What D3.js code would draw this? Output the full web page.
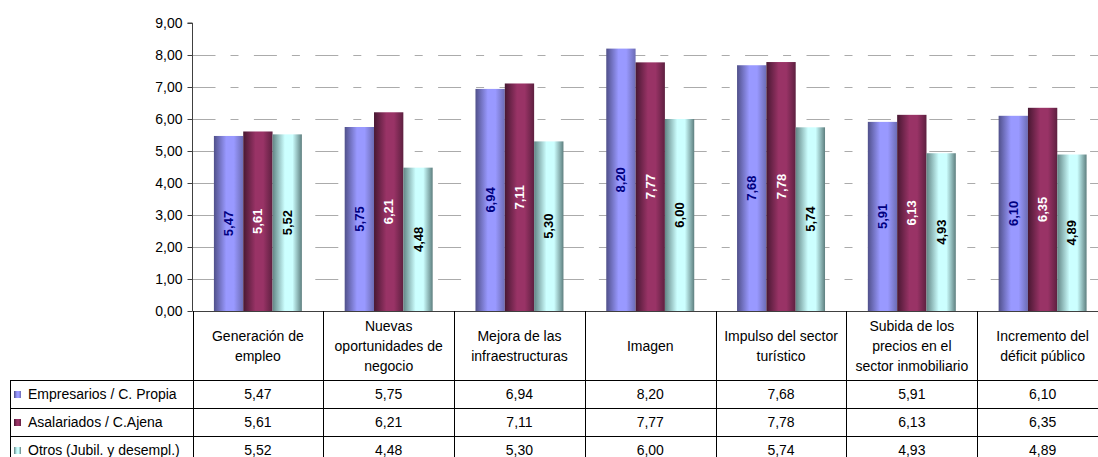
<!DOCTYPE html>
<html>
<head>
<meta charset="utf-8">
<script src="https://cdn.jsdelivr.net/npm/d3@7"></script>
<style>
  html, body { margin: 0; padding: 0; background: #fff; }
  svg { display: block; font-family: Arial, "Liberation Sans", sans-serif; }
</style>
</head>
<body>
<svg id="chart" width="1098" height="457"></svg>
<script>
// ---- data ----
const categories = [
  "Generación de empleo",
  "Nuevas oportunidades de negocio",
  "Mejora de las infraestructuras",
  "Imagen",
  "Impulso del sector turístico",
  "Subida de los precios en el sector inmobiliario",
  "Incremento del déficit público"
];
const categoryLines = [
  ["Generación de", "empleo"],
  ["Nuevas", "oportunidades de", "negocio"],
  ["Mejora de las", "infraestructuras"],
  ["Imagen"],
  ["Impulso del sector", "turístico"],
  ["Subida de los", "precios en el", "sector inmobiliario"],
  ["Incremento del", "déficit público"]
];
const seriesNames = ["Empresarios / C. Propia", "Asalariados / C.Ajena", "Otros (Jubil. y desempl.)"];
const empresarios = [5.47, 5.75, 6.94, 8.20, 7.68, 5.91, 6.10];
const asalariados = [5.61, 6.21, 7.11, 7.77, 7.78, 6.13, 6.35];
const otros = [5.52, 4.48, 5.30, 6.00, 5.74, 4.93, 4.89];
const yTicks = [0, 1, 2, 3, 4, 5, 6, 7, 8, 9];

const seriesValues = [empresarios, asalariados, otros];
const seriesStyle = [
  { stops: ["#50508a", "#9999ff", "#9999ff", "#6c6cb4"], label: "#000080" },
  { stops: ["#481832", "#993366", "#993366", "#5e2040"], label: "#ffffff" },
  { stops: ["#628585", "#ccffff", "#ccffff", "#5e7f7f"], label: "#000000" }
];

// ---- layout ----
const svg = d3.select("#chart");
const plotLeft = 192.5, plotRight = 1108, plotTop = 23, plotBottom = 311;
const headerBottom = 380, rowH = 28, tableLeft = 10;
const fmt = v => d3.format(".2f")(v).replace(".", ",");

const x = d3.scaleBand().domain(categories).range([plotLeft, plotRight]).paddingInner(0).paddingOuter(0);
const xs = d3.scaleBand().domain(d3.range(3)).range([0, x.bandwidth()]).paddingInner(0).paddingOuter(0.73);
const y = d3.scaleLinear().domain([0, 9]).range([plotBottom, plotTop]);

// gradients
const defs = svg.append("defs");
seriesStyle.forEach((s, i) => {
  const g = defs.append("linearGradient").attr("id", "g" + i)
    .attr("x1", "0%").attr("x2", "100%").attr("y1", "0%").attr("y2", "0%");
  const offs = [0, 0.42, 0.68, 1];
  s.stops.forEach((c, k) => g.append("stop").attr("offset", offs[k]).attr("stop-color", c));
});

// gridlines
svg.append("g").selectAll("line").data(yTicks.filter(t => t > 0 && t < 9)).join("line")
  .attr("x1", plotLeft).attr("x2", plotRight)
  .attr("y1", d => Math.round(y(d)) + 0.5).attr("y2", d => Math.round(y(d)) + 0.5)
  .attr("stroke", "#ababab").attr("stroke-width", 1)
  .attr("stroke-dasharray", "23,15,8,15.4");

// bars
const groups = svg.append("g").selectAll("g").data(categories).join("g")
  .attr("transform", d => `translate(${x(d)},0)`);
groups.selectAll("rect").data((d, ci) => seriesValues.map((vals, si) => ({ si, v: vals[ci] }))).join("rect")
  .attr("x", d => xs(d.si)).attr("width", xs.bandwidth())
  .attr("y", d => y(d.v)).attr("height", d => y(0) - y(d.v))
  .attr("fill", d => `url(#g${d.si})`);
groups.selectAll("text").data((d, ci) => seriesValues.map((vals, si) => ({ si, v: vals[ci] }))).join("text")
  .attr("transform", d => `translate(${xs(d.si) + xs.bandwidth() / 2 + 4.5},${(y(d.v) + y(0)) / 2}) rotate(-90)`)
  .attr("text-anchor", "middle")
  .attr("font-size", 13).attr("font-weight", "bold")
  .attr("fill", d => seriesStyle[d.si].label)
  .text(d => fmt(d.v));

// y axis
const yAxis = d3.axisLeft(y).tickValues(yTicks).tickSize(5).tickPadding(5).tickFormat(fmt);
const ya = svg.append("g").attr("transform", `translate(${plotLeft},0)`).call(yAxis);
ya.select(".domain").attr("stroke", "#404040").attr("d", `M-5,${y(9)}H0V${y(0)}`);
ya.selectAll(".tick line").attr("stroke", "#404040");
ya.selectAll(".tick text").attr("font-size", 14).attr("fill", "#000").attr("font-family", "Arial, 'Liberation Sans', sans-serif");

// ---- data table ----
const tbl = svg.append("g");
const line = (x1, y1, x2, y2, c) => tbl.append("line").attr("x1", x1).attr("y1", y1).attr("x2", x2).attr("y2", y2)
  .attr("stroke", c || "#000").attr("stroke-width", 1);
line(plotLeft, plotBottom + 0.5, plotRight, plotBottom + 0.5, "#404040");
categories.forEach(c => line(Math.round(x(c)) + 0.5, plotBottom, Math.round(x(c)) + 0.5, 470));
for (let r = 0; r < 4; r++) line(tableLeft, headerBottom + r * rowH + 0.5, plotRight, headerBottom + r * rowH + 0.5);
line(tableLeft + 0.5, headerBottom, tableLeft + 0.5, 470);

// header text
categories.forEach((c, ci) => {
  const lines = categoryLines[ci];
  const lh = 20;
  const cy = (plotBottom + headerBottom) / 2;
  const t = tbl.append("text").attr("text-anchor", "middle").attr("font-size", 14).attr("fill", "#000");
  lines.forEach((l, k) => {
    t.append("tspan").attr("x", x(c) + x.bandwidth() / 2)
      .attr("y", cy + (k - (lines.length - 1) / 2) * lh + 5).text(l);
  });
});

// data rows
seriesValues.forEach((vals, si) => {
  const rowY = headerBottom + si * rowH;
  tbl.append("rect").attr("x", 14).attr("y", rowY + 11).attr("width", 7).attr("height", 7)
    .attr("fill", `url(#g${si})`);
  tbl.append("text").attr("x", 28).attr("y", rowY + rowH / 2 + 5)
    .attr("font-size", 14).attr("fill", "#000").text(seriesNames[si]);
  categories.forEach((c, ci) => {
    tbl.append("text").attr("x", x(c) + x.bandwidth() / 2).attr("y", rowY + rowH / 2 + 5)
      .attr("text-anchor", "middle").attr("font-size", 14).attr("fill", "#000").text(fmt(vals[ci]));
  });
});
</script>
</body>
</html>
